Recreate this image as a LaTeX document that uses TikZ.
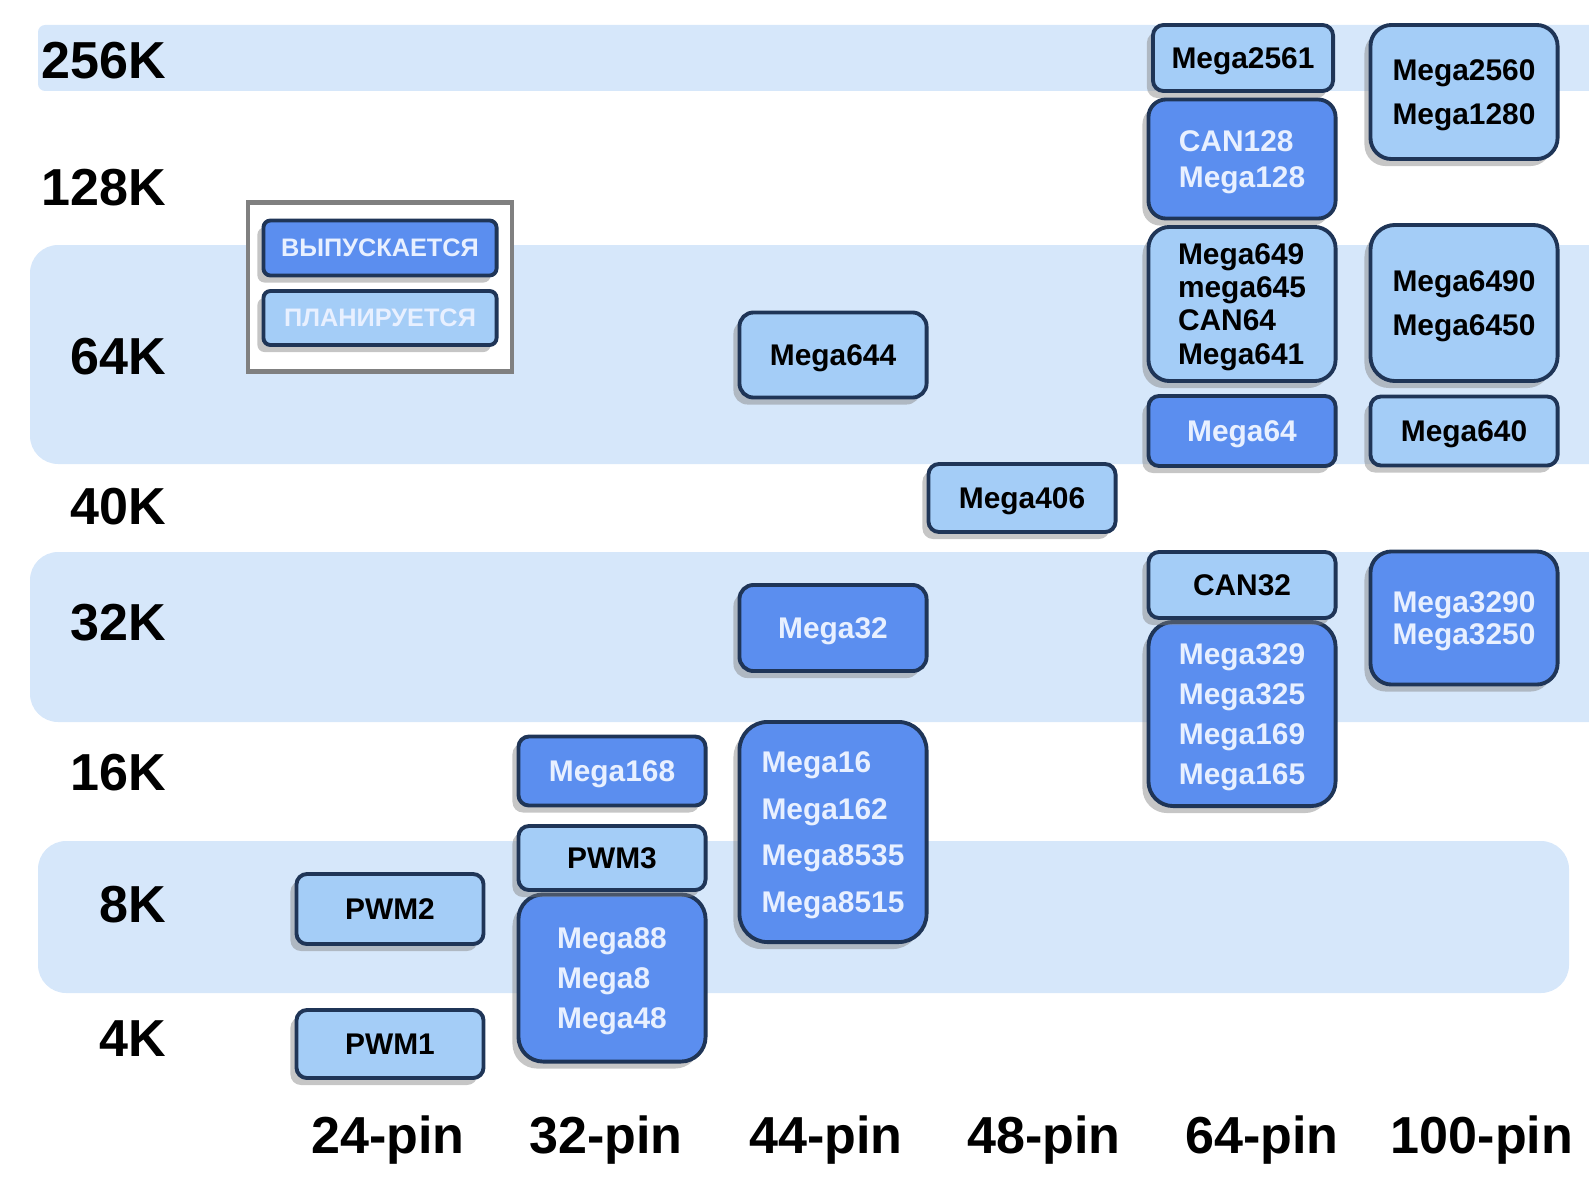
\documentclass[tikz,border=0pt]{standalone}
\usepackage{fontspec}
\setmainfont{Liberation Sans}
\usetikzlibrary{shadows}

\definecolor{bandblue}{HTML}{D6E7FA}
\definecolor{chiplite}{HTML}{A4CDF7}
\definecolor{chipdeep}{HTML}{5B8EEF}
\definecolor{chipedge}{HTML}{1F3557}
\definecolor{chiptext}{HTML}{E8F0FF}

\tikzset{
	chip/.style={draw=chipedge, line width=1.1pt, inner sep=0pt, minimum width=1.87cm, text depth=0pt,
		font=\fontsize{8.5}{10}\selectfont\bfseries, align=left,
		drop shadow={shadow xshift=-0.6mm, shadow yshift=-0.7mm, fill=black!50, opacity=0.45}},
	lite/.style={chip, fill=chiplite, text=black, rounded corners=#1},
	lite/.default=3pt,
	deep/.style={chip, fill=chipdeep, text=chiptext, rounded corners=#1},
	deep/.default=3pt,
	lead/.style={font=\fontsize{8.5}{#1}\selectfont\bfseries},
	memlbl/.style={anchor=east, inner sep=0pt, font=\fontsize{14.8}{16}\selectfont\bfseries},
	pinlbl/.style={inner sep=0pt, font=\fontsize{14.8}{16}\selectfont\bfseries},
}

\begin{document}
\begin{tikzpicture}[x=0.01cm, y=-0.01cm]
	\useasboundingbox (0,0) rectangle (1589,1176);
	\clip (0,0) rectangle (1589,1176);
	
	%bands
	\fill[bandblue, rounded corners=2pt] (38,25) rectangle (1640,91);
	\fill[bandblue, rounded corners=8pt] (30,245) rectangle (1640,464);
	\fill[bandblue, rounded corners=8pt] (30,552) rectangle (1640,722);
	\fill[bandblue, rounded corners=8pt] (38,841) rectangle (1569,993);
	
	%memory labels
	\node[memlbl] (k256) at (167,61)   {256K};
	\node[memlbl] (k128) at (167,188)  {128K};
	\node[memlbl] (k64)  at (167,357)  {64K};
	\node[memlbl] (k40)  at (167,507)  {40K};
	\node[memlbl] (k32)  at (167,623)  {32K};
	\node[memlbl] (k16)  at (167,773)  {16K};
	\node[memlbl] (k8)   at (167,905)  {8K};
	\node[memlbl] (k4)   at (167,1039) {4K};
	
	%pin labels
	\node[pinlbl] (p24)  at (388,1140)  {24-pin};
	\node[pinlbl] (p32)  at (606,1140)  {32-pin};
	\node[pinlbl] (p44)  at (826,1140)  {44-pin};
	\node[pinlbl] (p48)  at (1044,1140) {48-pin};
	\node[pinlbl] (p64)  at (1262,1140) {64-pin};
	\node[pinlbl] (p100) at (1482,1140) {100-pin};
	
	%legend
	\node[draw=black!50, line width=1.2pt, fill=white, minimum width=2.64cm, minimum height=1.69cm, inner sep=0pt] (legend) at (380,287) {};
	\node[deep=2pt, minimum width=2.33cm, minimum height=0.55cm, font=\fontsize{7.2}{8}\selectfont\bfseries] (released) at (380,248) {ВЫПУСКАЕТСЯ};
	\node[lite=2pt, minimum width=2.33cm, minimum height=0.54cm, text=chiptext, font=\fontsize{7.2}{8}\selectfont\bfseries] (planned) at (380,318) {ПЛАНИРУЕТСЯ};
	
	%24-pin
	\node[lite, minimum height=0.70cm] (pwm2) at (390,909)  {PWM2};
	\node[lite, minimum height=0.68cm] (pwm1) at (390,1044) {PWM1};
	
	%32-pin
	\node[deep, minimum height=0.69cm] (m168) at (612,771) {Mega168};
	\node[deep=7pt, minimum height=1.67cm, lead=11.4pt] (m88) at (612,978) {Mega88\\Mega8\\Mega48};
	\node[lite, minimum height=0.64cm] (pwm3) at (612,858) {PWM3};
	
	%44-pin
	\node[lite=4pt, minimum height=0.85cm] (m644) at (833,355) {Mega644};
	\node[deep=4pt, minimum height=0.86cm] (m32) at (833,628) {Mega32};
	\node[deep=8pt, minimum height=2.20cm, lead=13.3pt] (m16) at (833,832) {Mega16\\Mega162\\Mega8535\\Mega8515};
	
	%48-pin
	\node[lite, minimum height=0.68cm] (m406) at (1022,498) {Mega406};
	
	%64-pin
	\node[lite, minimum width=1.80cm, minimum height=0.66cm] (m2561) at (1243,58) {Mega2561};
	\node[deep=5pt, minimum height=1.19cm, lead=10.1pt] (can128) at (1242,159) {CAN128\\Mega128};
	\node[lite=6pt, minimum height=1.54cm, lead=9.4pt] (m649) at (1242,304) {Mega649\\mega645\\CAN64\\Mega641};
	\node[deep, minimum height=0.70cm] (m64) at (1242,431) {Mega64};
	\node[deep=7pt, minimum height=1.84cm, lead=11.4pt] (m329) at (1242,714) {Mega329\\Mega325\\Mega169\\Mega165};
	\node[lite, minimum height=0.66cm] (can32) at (1242,585) {CAN32};
	
	%100-pin
	\node[lite=6pt, minimum height=1.34cm, lead=12.7pt] (m2560) at (1464,92) {Mega2560\\Mega1280};
	\node[lite=7pt, minimum height=1.56cm, lead=12.7pt] (m6490) at (1464,303) {Mega6490\\Mega6450};
	\node[lite, minimum height=0.69cm] (m640) at (1464,431) {Mega640};
	\node[deep=6pt, minimum height=1.33cm, lead=9.2pt] (m3290) at (1464,618) {Mega3290\\Mega3250};
\end{tikzpicture}
\end{document}
